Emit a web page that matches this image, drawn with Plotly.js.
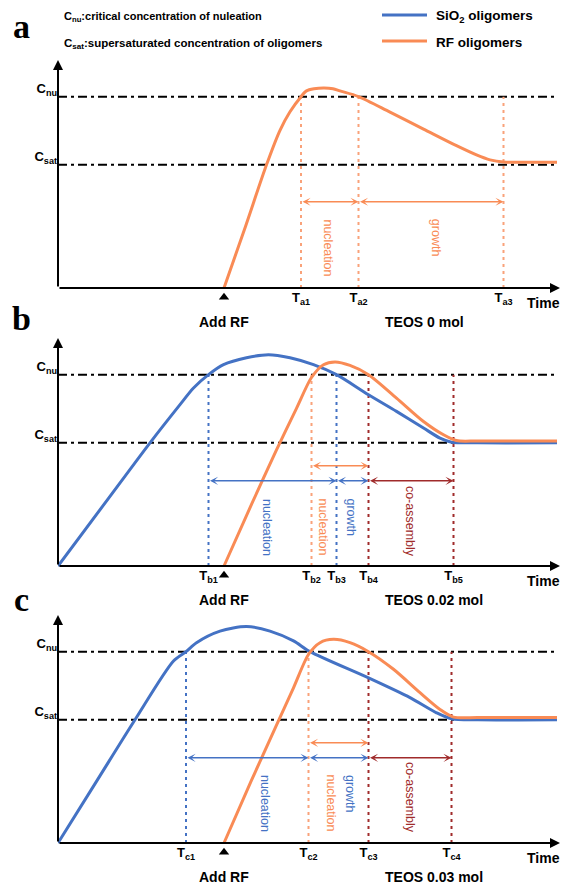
<!DOCTYPE html>
<html><head><meta charset="utf-8">
<script src="https://cdn.plot.ly/plotly-3.0.1.min.js"></script>
<style>html,body{margin:0;padding:0;background:#fff;}#chart{width:563px;height:885px;}</style>
</head><body><div id="chart"></div>
<script>
// ---------- data ----------
const C_SAT = 1.0;
const C_NU = 1.553;
const Y_TOP = 1.85;
const X_END = 100.4;
const X_FLAT_END = 99.8;
const ADD_RF_T = 33.2;

// panel a : TEOS 0 mol
const aRfX = [33.2, 37.5, 41.7, 44.4, 46.4, 48.6, 49.7, 51.2, 53.1, 55.0, 56.4, 60.1, 66.4, 73.1, 79.7, 83.7, 86.4, 89.1, 94.0, 99.8];
const aRfY = [0, 0.5, 1.0, 1.28, 1.43, 1.553, 1.60, 1.617, 1.624, 1.618, 1.60, 1.553, 1.427, 1.29, 1.155, 1.08, 1.04, 1.022, 1.02, 1.02];
const aT = [48.6, 60.1, 89.1];
const aTLabels = ["T<sub>a1</sub>", "T<sub>a2</sub>", "T<sub>a3</sub>"];

// panel b : TEOS 0.02 mol
const bSiX = [0, 9.2, 18.4, 24.4, 27.1, 30.1, 33.1, 37.7, 42.1, 46.4, 51.1, 55.7, 62.1, 67.7, 73.1, 76.4, 78.7, 84.0, 99.8];
const bSiY = [0, 0.5, 1.0, 1.31, 1.445, 1.553, 1.634, 1.69, 1.715, 1.69, 1.634, 1.553, 1.39, 1.255, 1.12, 1.038, 1.005, 1.0, 1.0];
const bRfX = [33.2, 38.7, 43.7, 47.7, 50.7, 53.1, 55.4, 58.4, 62.1, 67.7, 73.1, 77.1, 79.7, 84.0, 99.8];
const bRfY = [0, 0.5, 0.943, 1.28, 1.53, 1.634, 1.656, 1.628, 1.553, 1.363, 1.173, 1.065, 1.018, 1.015, 1.015];
const bT = [30.1, 50.7, 55.7, 62.1, 79.1];
const bTLabels = ["T<sub>b1</sub>", "T<sub>b2</sub>", "T<sub>b3</sub>", "T<sub>b4</sub>", "T<sub>b5</sub>"];

// panel c : TEOS 0.03 mol
const cSiX = [0, 7.7, 15.4, 23.1, 25.6, 27.7, 32.4, 37.7, 42.4, 47.1, 50.4, 62.1, 70.4, 75.7, 78.7, 84.0, 99.8];
const cSiY = [0, 0.5, 1.0, 1.477, 1.553, 1.626, 1.72, 1.757, 1.72, 1.64, 1.553, 1.34, 1.18, 1.057, 1.008, 1.0, 1.0];
const cRfX = [33.2, 38.6, 43.7, 47.1, 50.1, 52.4, 55.1, 58.4, 62.1, 67.1, 72.4, 76.4, 79.1, 84.0, 99.8];
const cRfY = [0, 0.5, 0.957, 1.26, 1.53, 1.626, 1.653, 1.626, 1.553, 1.41, 1.22, 1.084, 1.022, 1.018, 1.018];
const cT = [25.6, 50.1, 62.1, 78.7];
const cTLabels = ["T<sub>c1</sub>", "T<sub>c2</sub>", "T<sub>c3</sub>", "T<sub>c4</sub>"];

const conditions = ["TEOS 0 mol", "TEOS 0.02 mol", "TEOS 0.03 mol"];
const panelLetters = ["a", "b", "c"];

// ---------- styles ----------
const FONT = "Arial, 'Liberation Sans', sans-serif";
const BLUE = "#4472C4";
const ORANGE = "#F98B55";
const ORANGE_L = "#F9A27A";
const DRED = "#A02B2B";
const W = 563, H = 885;
const PXU = 5;        // px per time unit
const PYU = 123.2;    // px per concentration unit
const px = v => v / W;
const py = v => 1 - v / H;
const BELOW = 40, ABOVE = 233;

const panels = [
  {xa: "x", ya: "y", xr: "xaxis", yr: "yaxis", O: 288, T: aT, TL: aTLabels,
   si: null, rf: [aRfX, aRfY],
   vcol: [ORANGE_L, ORANGE_L, ORANGE_L],
   arrows: [[aT[0], aT[1], 0.70, ORANGE], [aT[1], aT[2], 0.70, ORANGE]],
   texts: [["nucleation", 54.1, 0.325, ORANGE], ["growth", 75.6, 0.407, ORANGE]],
   letterY: 26},
  {xa: "x2", ya: "y2", xr: "xaxis2", yr: "yaxis2", O: 566, T: bT, TL: bTLabels,
   si: [bSiX, bSiY], rf: [bRfX, bRfY],
   vcol: [BLUE, ORANGE_L, BLUE, DRED, DRED],
   arrows: [[bT[1], bT[3], 0.813, ORANGE], [bT[0], bT[2], 0.691, BLUE], [bT[2], bT[3], 0.691, BLUE], [bT[3], bT[4], 0.691, DRED]],
   texts: [["nucleation", 41.8, 0.317, BLUE], ["nucleation", 53.1, 0.317, ORANGE], ["growth", 58.7, 0.398, BLUE], ["co-assembly", 70.4, 0.366, DRED]],
   letterY: 318},
  {xa: "x3", ya: "y3", xr: "xaxis3", yr: "yaxis3", O: 843, T: cT, TL: cTLabels,
   si: [cSiX, cSiY], rf: [cRfX, cRfY],
   vcol: [BLUE, ORANGE_L, DRED, DRED],
   arrows: [[cT[1], cT[2], 0.813, ORANGE], [cT[0], cT[1], 0.691, BLUE], [cT[1], cT[2], 0.691, BLUE], [cT[2], cT[3], 0.691, DRED]],
   texts: [["nucleation", 41.4, 0.325, BLUE], ["nucleation", 54.7, 0.325, ORANGE], ["growth", 58.4, 0.398, BLUE], ["co-assembly", 70.4, 0.374, DRED]],
   letterY: 599}
];

const traces = [];
const shapes = [];
const annotations = [];
const layout = {
  width: W, height: H, margin: {l: 0, r: 0, t: 0, b: 0},
  paper_bgcolor: "#fff", plot_bgcolor: "rgba(0,0,0,0)", showlegend: false,
  font: {family: FONT, color: "#000"}
};

panels.forEach((p, i) => {
  // axes
  layout[p.xr] = {
    domain: [px(58), 1], range: [0, (W - 58) / PXU], anchor: "free", position: py(p.O),
    showgrid: false, zeroline: false, showline: false,
    ticks: "", tickvals: p.T, ticktext: p.TL.map(t => "<b>" + t + "</b>"),
    tickfont: {family: FONT, size: 13, color: "#000"}, fixedrange: true
  };
  layout[p.yr] = {
    domain: [py(p.O + BELOW), py(p.O - ABOVE)], range: [-BELOW / PYU, ABOVE / PYU], anchor: p.xa,
    showgrid: false, zeroline: false, showline: false,
    ticks: "", tickvals: [C_SAT, C_NU], ticklabelshift: -8,
    ticktext: ["<b>C<sub>sat</sub></b>", "<b>C<sub>nu</sub></b>"],
    tickfont: {family: FONT, size: 13, color: "#000"}, fixedrange: true
  };
  // reference levels
  [C_NU, C_SAT].forEach(lv => shapes.push({
    type: "line", xref: p.xa, yref: p.ya, x0: 0, x1: X_FLAT_END, y0: lv, y1: lv,
    line: {color: "#000", width: 2, dash: "9px,4px,3px,4px"}, layer: "below"
  }));
  // vertical dotted markers
  p.T.forEach((t, k) => traces.push({
    type: "scatter", mode: "lines", x: [t, t], y: [0, C_NU], xaxis: p.xa, yaxis: p.ya,
    line: {color: p.vcol[k], width: 2, dash: "3px,4px"}, hoverinfo: "skip"
  }));
  // curves
  if (p.si) traces.push({
    type: "scatter", mode: "lines", x: p.si[0], y: p.si[1], xaxis: p.xa, yaxis: p.ya,
    line: {color: BLUE, width: 3, shape: "spline", smoothing: 0.8}, name: "SiO2 oligomers"
  });
  traces.push({
    type: "scatter", mode: "lines", x: p.rf[0], y: p.rf[1], xaxis: p.xa, yaxis: p.ya,
    line: {color: ORANGE, width: 3, shape: "spline", smoothing: 0.8}, name: "RF oligomers"
  });
  // Add RF marker
  traces.push({
    type: "scatter", mode: "markers", x: [ADD_RF_T], y: [-0.075], xaxis: p.xa, yaxis: p.ya,
    marker: {symbol: "triangle-up", size: 9, color: "#000"}, hoverinfo: "skip"
  });
  // axes drawn as arrows
  annotations.push({xref: p.xa, yref: p.ya, axref: p.xa, ayref: p.ya, x: X_END, y: 0, ax: 0, ay: 0,
    text: "", showarrow: true, arrowhead: 2, arrowsize: 1, arrowwidth: 2, arrowcolor: "#000", standoff: 0});
  annotations.push({xref: p.xa, yref: p.ya, axref: p.xa, ayref: p.ya, x: 0, y: Y_TOP, ax: 0, ay: 0,
    text: "", showarrow: true, arrowhead: 2, arrowsize: 1, arrowwidth: 2, arrowcolor: "#000", standoff: 0});
  // double arrows
  p.arrows.forEach(a => annotations.push({
    xref: p.xa, yref: p.ya, axref: p.xa, ayref: p.ya, x: a[1], y: a[2], ax: a[0], ay: a[2],
    text: "", showarrow: true, arrowside: "end+start", arrowhead: 3, startarrowhead: 3,
    arrowsize: 0.9, startarrowsize: 0.9, arrowwidth: 1.5, arrowcolor: a[3], standoff: 0, startstandoff: 0
  }));
  // rotated stage labels
  p.texts.forEach(t => annotations.push({
    xref: p.xa, yref: p.ya, x: t[1], y: t[2], text: t[0], textangle: 90, showarrow: false,
    xanchor: "center", yanchor: "middle",
    font: {family: FONT, size: 12.5, color: t[3]}
  }));
  // bottom labels
  annotations.push({xref: p.xa, yref: p.ya, x: ADD_RF_T, y: -0.276, text: "<b>Add RF</b>", showarrow: false,
    xanchor: "center", yanchor: "middle", font: {family: FONT, size: 14, color: "#000"}});
  annotations.push({xref: p.xa, yref: p.ya, x: 65, y: -0.276, xanchor: "left", yanchor: "middle",
    text: "<b>" + conditions[i] + "</b>", showarrow: false, font: {family: FONT, size: 14, color: "#000"}});
  annotations.push({xref: p.xa, yref: p.ya, x: 100.7, y: -0.122, xanchor: "right", yanchor: "middle",
    text: "<b>Time</b>", showarrow: false, font: {family: FONT, size: 14, color: "#000"}});
  // panel letter
  annotations.push({xref: "paper", yref: "paper", x: px(21), y: py(p.letterY), xanchor: "center", yanchor: "middle",
    text: "<b>" + panelLetters[i] + "</b>",
    showarrow: false, font: {family: "'Liberation Serif', 'Times New Roman', serif", size: 34, color: "#000"}});
});

// notes (top-left)
annotations.push({xref: "paper", yref: "paper", x: px(62), y: py(17), xanchor: "left", yanchor: "middle", showarrow: false,
  text: "<b>C<sub>nu</sub>:critical concentration of nuleation</b>", font: {family: FONT, size: 11, color: "#000"}});
annotations.push({xref: "paper", yref: "paper", x: px(62), y: py(44), xanchor: "left", yanchor: "middle", showarrow: false,
  text: "<b>C<sub>sat</sub>:supersaturated concentration of oligomers</b>", font: {family: FONT, size: 11.5, color: "#000"}});

// legend (manual)
const legendItems = [["SiO<sub>2</sub> oligomers", BLUE, 15], ["RF oligomers", ORANGE, 41]];
legendItems.forEach((l, k) => {
  shapes.push({type: "line", xref: "paper", yref: "paper", x0: px(382), x1: px(427), y0: py(l[2]), y1: py(l[2]),
    line: {color: l[1], width: 3}});
  annotations.push({xref: "paper", yref: "paper", x: px(434), y: py(l[2] + (k === 0 ? 2 : 1)), xanchor: "left", yanchor: "middle",
    showarrow: false, text: "<b>" + l[0] + "</b>", font: {family: FONT, size: 13.5, color: "#000"}});
});

layout.shapes = shapes;
layout.annotations = annotations;
Plotly.newPlot("chart", traces, layout, {staticPlot: true, displayModeBar: false});
</script>
</body></html>
